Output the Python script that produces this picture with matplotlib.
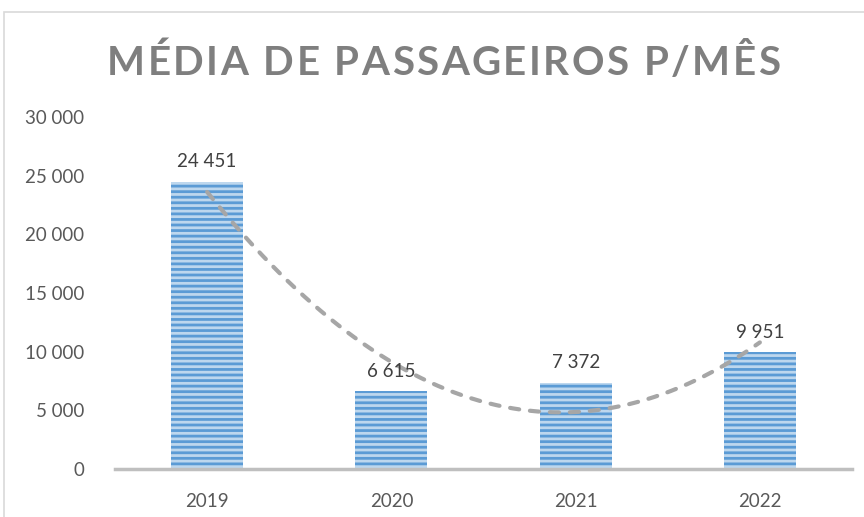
import numpy as np
import matplotlib
matplotlib.use("Agg")
import matplotlib.pyplot as plt
from matplotlib.patches import Rectangle

categories = ["2019", "2020", "2021", "2022"]
values = [24451, 6615, 7372, 9951]
yticks = [0, 5000, 10000, 15000, 20000, 25000, 30000]
title = "MÉDIA DE PASSAGEIROS P/MÊS"

def fmt(v):
    return f"{v:,}".replace(",", " ")

plt.rcParams['hatch.linewidth'] = 2.0
plt.rcParams['font.family'] = ['Lato', 'DejaVu Sans']

W, H = 864, 517
fig = plt.figure(figsize=(W/100, H/100), dpi=100)
# chart border
fig.patches.append(Rectangle((4/W, -0.1), 1.2, (H-12)/H + 0.1, transform=fig.transFigure,
                             fill=False, edgecolor='#D9D9D9', linewidth=1.2))

ax = fig.add_axes([115/W, 48/H, (852-115)/W, (469-117)/H])
x = np.arange(len(categories))
ax.bar(x, values, width=0.39, color='#BDD7EE', edgecolor='#5B9BD5', hatch='---', linewidth=0)

# polynomial (order 2) trendline
coef = np.polyfit(x, values, 2)
xs = np.linspace(x[0], x[-1], 200)
ax.plot(xs, np.polyval(coef, xs), color='#A6A6A6', linewidth=3, linestyle=(0, (2.2, 2.6)),
        dash_capstyle='round', zorder=3)

for xi, v in zip(x, values):
    ax.text(xi, v + 1000, fmt(v), ha='center', va='bottom', fontsize=13.5, color='#404040')

ax.set_xlim(-0.5, len(categories) - 0.5)
ax.set_ylim(0, 30000)
ax.set_xticks(x)
ax.set_xticklabels(categories, fontsize=13.5, color='#595959')
ax.set_yticks(yticks)
ax.set_yticklabels([fmt(t) for t in yticks], fontsize=13.5, color='#595959')
ax.tick_params(axis='both', length=0)
ax.tick_params(axis='y', pad=22)
ax.tick_params(axis='x', pad=17)
for s in ['top', 'right', 'left']:
    ax.spines[s].set_visible(False)
ax.spines['bottom'].set_color('#BFBFBF')
ax.spines['bottom'].set_linewidth(2.5)

# letter-spaced title
renderer = fig.canvas.get_renderer()
tprops = dict(fontsize=29, fontweight='bold', color='#7F7F7F')
def text_width(s):
    if not s:
        return 0.0
    t = fig.text(0, 0, s, **tprops)
    w = t.get_window_extent(renderer=renderer).width
    t.remove()
    return w
x0, x1 = 107, 780
full_w = text_width(title)
sp = (x1 - x0 - full_w) / (len(title) - 1)
for i, ch in enumerate(title):
    if ch == ' ':
        continue
    px = x0 + text_width(title[:i]) + i * sp
    fig.text(px / W, 1 - 75 / H, ch, ha='left', va='baseline', **tprops)

fig.savefig("out.png", dpi=100)
